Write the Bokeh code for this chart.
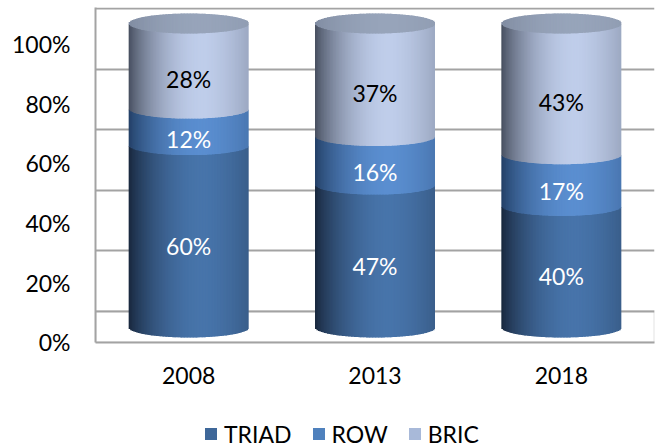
import numpy as np
from bokeh.plotting import figure
from bokeh.layouts import column
from bokeh.models import (FactorRange, Range1d, LinearAxis, Grid, FixedTicker, Legend,
                          LegendItem, BoxAnnotation, ColumnDataSource)
from bokeh.core.properties import value
from bokeh.embed import file_html
from bokeh.resources import INLINE

# ---------------- data ----------------
CATEGORIES = ["2008", "2013", "2018"]
SERIES = ["TRIAD", "ROW", "BRIC"]
TRIAD = [60, 47, 40]
ROW = [12, 16, 17]
BRIC = [28, 37, 43]
Y_TICKS = [0, 20, 40, 60, 80, 100]
Y_TICK_LABELS = ["0%", "20%", "40%", "60%", "80%", "100%"]

# ---------------- style / layout ----------------
FONT = "Lato"
FS = "23px"
GRID = "#a3a3a3"
BORDER_LEFT, BORDER_TOP, BORDER_BOTTOM = 95, 7, 50
FRAME_W, FRAME_H = 559, 335
LEGEND_H = 56
# pixel positions measured from frame top for the three depth planes
CYL0, CYL100 = 320.0, 16.0      # cylinders (middle plane)
FRONT0, FRONT100 = 334.8, 36.5  # axis labels (front plane)
BACK0, BACK100 = 303.5, 1.3     # back wall grid
ELL_PX = 10.0                   # half height of cylinder ellipses
CYL_PX_W = 120.0                # cylinder width in px
N_STRIPS = 80

SHADES = {  # dark, light
    "TRIAD": ("#17253a", "#4774aa"),
    "ROW": ("#213d63", "#5a8ed0"),
    "BRIC": ("#434b5b", "#bfcdea"),
    "CAP": ("#737e93", "#97a4ba"),
}
LEGEND_COLORS = {"TRIAD": "#3e6799", "ROW": "#4f81bd", "BRIC": "#a8b9d9"}
LABEL_COLORS = {"TRIAD": "white", "ROW": "white", "BRIC": "black"}


def rng(p0, p100):
    s = 100.0 / (p0 - p100)
    return Range1d(start=(p0 - FRAME_H) * s, end=p0 * s)


def hex2rgb(h):
    h = h.lstrip("#")
    return np.array([int(h[i:i + 2], 16) for i in (0, 2, 4)], dtype=float)


def mix(dark, light, f):
    d, l = hex2rgb(dark), hex2rgb(light)
    out = []
    for v in f:
        c = d + (l - d) * v
        out.append("#%02x%02x%02x" % tuple(int(round(x)) for x in np.clip(c, 0, 255)))
    return out


def shade(t):
    p = 0.62
    a = np.sin(np.pi / 2 * np.clip(t / p, 0, 1)) ** 0.75
    b = 1 - 0.28 * np.clip((t - p) / (1 - p), 0, 1) ** 1.6
    return np.where(t <= p, a, b)


p = figure(x_range=FactorRange(factors=CATEGORIES, range_padding=0, factor_padding=0),
           y_range=rng(CYL0, CYL100),
           frame_width=FRAME_W, frame_height=FRAME_H,
           min_border_left=BORDER_LEFT, min_border_right=1, min_border_top=BORDER_TOP,
           min_border_bottom=BORDER_BOTTOM,
           output_backend="svg", toolbar_location=None, y_axis_location=None,
           background_fill_color="white", border_fill_color="white",
           outline_line_color=None)
p.extra_y_ranges = {"front": rng(FRONT0, FRONT100), "back": rng(BACK0, BACK100)}

p.xgrid.visible = False
p.ygrid.visible = False

# back wall grid + floor
p.add_layout(Grid(dimension=1, ticker=FixedTicker(ticks=Y_TICKS), y_range_name="back",
                  grid_line_color=GRID, grid_line_width=2))
p.add_layout(BoxAnnotation(top=0, y_range_name="back", fill_color=None, fill_alpha=0,
                           line_color=GRID, line_width=2, level="underlay"))

# y axis (front plane)
yaxis = LinearAxis(y_range_name="front", ticker=FixedTicker(ticks=Y_TICKS),
                   major_label_overrides={t: l for t, l in zip(Y_TICKS, Y_TICK_LABELS)},
                   axis_line_color=GRID, axis_line_width=2,
                   major_tick_line_color=None, minor_tick_line_color=None,
                   major_label_standoff=19, major_label_text_font=FONT,
                   major_label_text_font_size=FS, major_label_text_color="black")
p.add_layout(yaxis, "left")

xa = p.xaxis[0]
xa.axis_line_color = GRID
xa.axis_line_width = 2
xa.major_tick_line_color = None
xa.minor_tick_line_color = None
xa.major_label_standoff = 18
xa.major_label_text_font = FONT
xa.major_label_text_font_size = FS
xa.major_label_text_color = "black"

# ---------------- cylinders (shaded strips) ----------------
px_per_unit = (CYL0 - CYL100) / 100.0
ell = ELL_PX / px_per_unit
seam = 0.5 / px_per_unit
half_w = CYL_PX_W / (FRAME_W / len(CATEGORIES)) / 2.0
edges = np.linspace(-1, 1, N_STRIPS + 1)
uc = (edges[:-1] + edges[1:]) / 2
arc = np.sqrt(1 - uc ** 2) * ell
f = shade((uc + 1) / 2)
step = edges[1] - edges[0]

cols = {"left": [], "right": [], "bottom": [], "top": [], "color": []}
lab = {"x": [], "y": [], "text": [], "color": []}
values = {"TRIAD": TRIAD, "ROW": ROW, "BRIC": BRIC}

for i, cat in enumerate(CATEGORIES):
    base = 0.0
    for s in SERIES:
        v = values[s][i]
        lo, hi = base, base + v
        colors = mix(*SHADES[s], f)
        for k in range(N_STRIPS):
            l = edges[k] * half_w
            r = min(edges[k] + step * 1.6, 1.0) * half_w
            cols["left"].append((cat, float(l)))
            cols["right"].append((cat, float(r)))
            cols["bottom"].append(lo - arc[k])
            cols["top"].append(hi - arc[k] + seam)
            cols["color"].append(colors[k])
        lab["x"].append(cat)
        lab["y"].append((lo + hi) / 2)
        lab["text"].append("%d%%" % v)
        lab["color"].append(LABEL_COLORS[s])
        base = hi
    # top cap
    capc = mix(*SHADES["CAP"], 0.35 + 0.65 * f)
    for k in range(N_STRIPS):
        l = edges[k] * half_w
        r = min(edges[k] + step * 1.6, 1.0) * half_w
        cols["left"].append((cat, float(l)))
        cols["right"].append((cat, float(r)))
        cols["bottom"].append(base - arc[k])
        cols["top"].append(base + arc[k])
        cols["color"].append(capc[k])

p.quad(left="left", right="right", bottom="bottom", top="top", fill_color="color",
       line_color=None, source=ColumnDataSource(cols))

p.text(x="x", y="y", text="text", text_color="color", source=ColumnDataSource(lab),
       y_range_name="front", y_offset=-6.5, text_align="center", text_baseline="middle",
       text_font=value(FONT), text_font_size=FS)

# ---------------- legend (own strip below the chart) ----------------
q = figure(width=BORDER_LEFT + FRAME_W + 1, height=LEGEND_H,
           x_range=Range1d(0, 1), y_range=Range1d(0, 1),
           min_border_left=0, min_border_right=0, min_border_top=0, min_border_bottom=0,
           x_axis_location=None, y_axis_location=None,
           output_backend="svg", toolbar_location=None,
           background_fill_color="white", border_fill_color="white",
           outline_line_color=None)
q.xgrid.visible = False
q.ygrid.visible = False
items = []
for s in SERIES:
    # zero-area proxy mark: only its legend swatch is visible
    r = q.quad(left=[0], right=[0], top=[0], bottom=[0], fill_color=LEGEND_COLORS[s],
               line_color=None)
    items.append(LegendItem(label=s, renderers=[r]))
legend = Legend(items=items, orientation="horizontal", location=(108, 0.5),
                glyph_width=15, glyph_height=15, label_standoff=6, spacing=19,
                padding=0, margin=0, border_line_color=None, background_fill_alpha=0,
                label_text_font=FONT, label_text_font_size=FS, label_text_color="black")
q.add_layout(legend, "center")

layout = column(p, q, spacing=0)
open("out.html", "w").write(file_html(layout, INLINE))
